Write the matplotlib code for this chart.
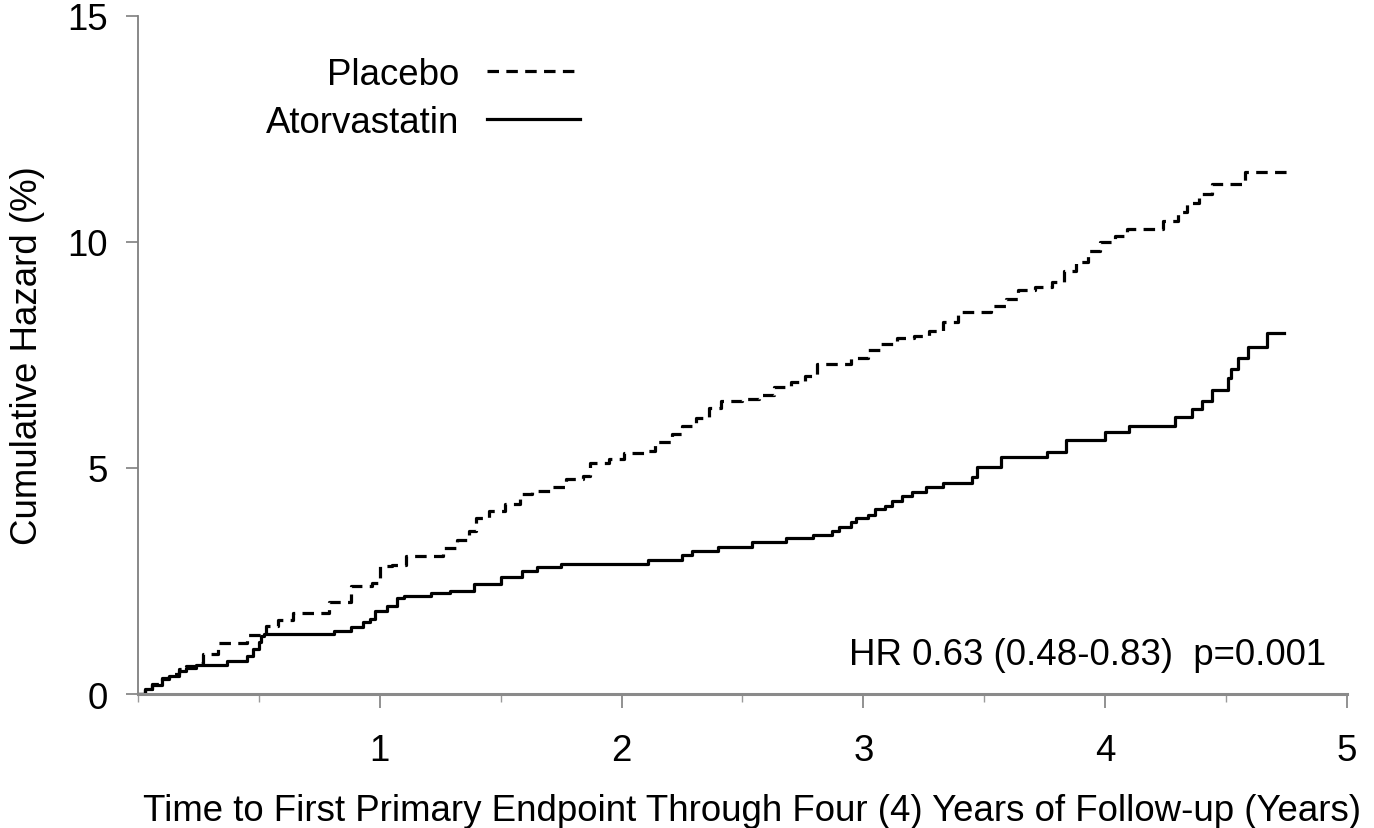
import matplotlib
matplotlib.use("Agg")
import matplotlib.pyplot as plt
from matplotlib.ticker import MultipleLocator

plt.rcParams['font.family'] = ['Liberation Sans', 'DejaVu Sans']

# Placebo step curve (years, cumulative hazard %)
placebo_t = [0.00, 0.03, 0.06, 0.10, 0.13, 0.17, 0.20, 0.24, 0.27, 0.33, 0.45, 0.53,
             0.58, 0.64, 0.79, 0.88, 0.97, 1.00, 1.05, 1.11, 1.26, 1.32, 1.37, 1.40,
             1.45, 1.52, 1.58, 1.63, 1.71, 1.77, 1.84, 1.87, 1.95, 2.01, 2.10, 2.14,
             2.21, 2.25, 2.31, 2.36, 2.41, 2.50, 2.57, 2.63, 2.70, 2.76, 2.81, 2.95,
             3.02, 3.07, 3.14, 3.21, 3.27, 3.33, 3.39, 3.53, 3.59, 3.64, 3.71, 3.78,
             3.83, 3.88, 3.93, 3.98, 4.04, 4.09, 4.24, 4.30, 4.34, 4.39, 4.44, 4.58,
             4.76]
placebo_v = [0.00, 0.12, 0.22, 0.35, 0.45, 0.55, 0.62, 0.68, 0.88, 1.13, 1.30, 1.50,
             1.63, 1.80, 2.03, 2.40, 2.45, 2.83, 2.85, 3.05, 3.23, 3.40, 3.60, 3.90,
             4.05, 4.20, 4.42, 4.50, 4.58, 4.75, 4.82, 5.10, 5.20, 5.33, 5.38, 5.58,
             5.75, 5.93, 6.10, 6.33, 6.48, 6.53, 6.62, 6.80, 6.90, 7.04, 7.30, 7.43,
             7.60, 7.74, 7.87, 7.92, 8.03, 8.23, 8.45, 8.58, 8.74, 8.94, 9.00, 9.12,
             9.36, 9.56, 9.80, 10.00, 10.13, 10.29, 10.46, 10.66, 10.86, 11.06, 11.28, 11.55,
             11.55]

# Atorvastatin step curve
atorva_t = [0.00, 0.03, 0.06, 0.10, 0.13, 0.17, 0.20, 0.24, 0.37, 0.45, 0.475, 0.50,
            0.51, 0.52, 0.81, 0.88, 0.93, 0.96, 0.98, 1.03, 1.07, 1.10, 1.21, 1.29,
            1.39, 1.50, 1.59, 1.65, 1.75, 2.11, 2.25, 2.29, 2.40, 2.54, 2.68, 2.79,
            2.87, 2.90, 2.95, 2.97, 3.02, 3.05, 3.09, 3.12, 3.16, 3.20, 3.26, 3.33,
            3.45, 3.47, 3.57, 3.76, 3.84, 4.00, 4.10, 4.29, 4.36, 4.40, 4.44, 4.51,
            4.52, 4.55, 4.59, 4.67, 4.74]
atorva_v = [0.00, 0.11, 0.20, 0.33, 0.40, 0.50, 0.57, 0.64, 0.73, 0.85, 1.00, 1.15,
            1.28, 1.33, 1.40, 1.48, 1.60, 1.66, 1.84, 1.95, 2.12, 2.17, 2.23, 2.28,
            2.43, 2.59, 2.72, 2.81, 2.88, 2.96, 3.07, 3.16, 3.25, 3.36, 3.45, 3.52,
            3.60, 3.69, 3.80, 3.89, 3.97, 4.09, 4.16, 4.27, 4.38, 4.47, 4.58, 4.67,
            4.80, 5.02, 5.24, 5.35, 5.62, 5.80, 5.93, 6.13, 6.30, 6.48, 6.73, 7.00,
            7.19, 7.43, 7.68, 7.98, 7.98]

x_major = [1, 2, 3, 4, 5]
y_major = [0, 5, 10, 15]
hr_text = "HR 0.63 (0.48-0.83)  p=0.001"

FS = 26.4

fig = plt.figure(figsize=(13.74, 8.29), dpi=100)
ax = fig.add_axes([0.1004, 0.1616, 0.8799, 0.818])

ax.step(placebo_t, placebo_v, where='post', color='black', lw=2.3,
        linestyle=(0, (3.6, 2.3)), label='Placebo')
ax.step(atorva_t, atorva_v, where='post', color='black', lw=2.3,
        linestyle='-', label='Atorvastatin')

ax.set_xlim(0, 5)
ax.set_ylim(0, 15)
ax.set_xticks(x_major)
ax.xaxis.set_minor_locator(MultipleLocator(0.5))
ax.set_yticks(y_major)

for s in ['top', 'right']:
    ax.spines[s].set_visible(False)
ax.spines['left'].set_color('#7f7f7f')
ax.spines['left'].set_linewidth(1.3)
ax.spines['bottom'].set_color('#8a8a8a')
ax.spines['bottom'].set_linewidth(2.2)

ax.tick_params(axis='both', which='major', labelsize=FS, colors='#7f7f7f',
               labelcolor='black', width=1.2, length=9, direction='out')
ax.tick_params(axis='x', which='major', pad=18, length=10)
ax.tick_params(axis='y', which='major', pad=13)
ax.tick_params(axis='x', which='minor', length=6, width=1.0, colors='#9a9a9a')

ax.set_xlabel("Time to First Primary Endpoint Through Four (4) Years of Follow-up (Years)",
              fontsize=FS)
ax.xaxis.set_label_coords(0.508, -0.146)
ax.set_ylabel("Cumulative Hazard (%)", fontsize=FS, labelpad=16)

ax.text(2.94, 0.88, hr_text, fontsize=FS, ha='left', va='center')

ax.legend(loc='upper right', bbox_to_anchor=(0.393, 0.988), frameon=False,
          markerfirst=False, fontsize=FS, handlelength=2.55, handletextpad=0.74,
          labelspacing=0.36)

fig.savefig("out.png", dpi=100)
